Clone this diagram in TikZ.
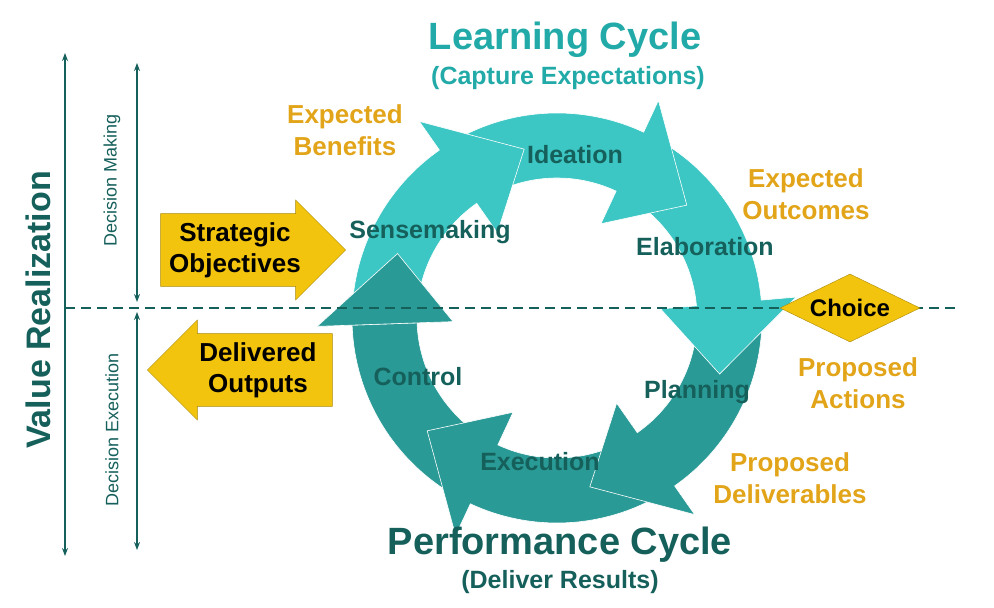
\documentclass[tikz,border=0pt]{standalone}
\usepackage{fontspec}
\setmainfont{Liberation Sans}
\usetikzlibrary{arrows.meta,shapes.geometric,shapes.arrows}
\definecolor{lightteal}{HTML}{3CC6C4}
\definecolor{darkteal}{HTML}{2A9A96}
\definecolor{deepteal}{HTML}{16605C}
\definecolor{titleteal}{HTML}{22AAA8}
\definecolor{gold}{HTML}{E2A418}
\definecolor{yellowbox}{HTML}{F2C40E}
\newcommand{\cyclearrow}[3]{% start angle, end angle, colour
  \fill[#3,draw=white,line width=0.6pt] (#1:205) arc[start angle=#1,end angle=#2,radius=205]
    -- (#2:240) -- ({#2-24}:172) -- (#2:104) -- (#2:140)
    arc[start angle=#2,end angle=#1,radius=140] -- cycle;}
\newcommand{\cyclehead}[2]{% angle, colour
  \fill[#2,draw=white,line width=0.6pt] (#1:240) -- ({#1-24}:172) -- (#1:104) -- cycle;}
\begin{document}
\begin{tikzpicture}[x=1pt,y=1pt,font=\bfseries,
    steplabel/.style={font=\fontsize{25}{27}\selectfont\bfseries,text=deepteal},
    outlabel/.style={font=\fontsize{26}{32}\selectfont\bfseries,text=gold,align=center},
    sidelabel/.style={font=\fontsize{18}{20}\selectfont,text=deepteal,rotate=90},
    goldarrow/.style={single arrow,fill=yellowbox,draw=yellowbox!70!black,
      minimum height=185pt,minimum width=100pt,single arrow head extend=12pt,
      inner sep=4pt,align=center,font=\fontsize{26}{31}\selectfont\bfseries},
    guide/.style={draw=deepteal,line width=1.4pt,{Stealth[length=8pt]}-{Stealth[length=8pt]}}]
  \useasboundingbox (0,0) rectangle (994,608);

  % cycle ring
  \begin{scope}[shift={(557,290)}]
    \cyclearrow{-115}{-178}{darkteal}
    \cyclearrow{-55}{-115}{darkteal}
    \cyclearrow{5}{-55}{darkteal}
    \cyclearrow{65}{5}{lightteal}
    \cyclearrow{125}{65}{lightteal}
    \cyclearrow{182}{125}{lightteal}
    \cyclehead{182}{darkteal}
  \end{scope}

  \node[steplabel] (ideation) at (575,453) {Ideation};
  \node[steplabel] (sense)    at (430,376) {Sensemaking};
  \node[steplabel] (elab)     at (705,361) {Elaboration};
  \node[steplabel] (plan)     at (697,216) {Planning};
  \node[steplabel] (exec)     at (540,146) {Execution};
  \node[steplabel] (control)  at (418,231) {Control};

  \node[outlabel] (benefits)  at (345,478) {Expected\\Benefits};
  \node[outlabel] (outcomes)  at (806,414) {Expected\\Outcomes};
  \node[outlabel] (actions)   at (858,225) {Proposed\\Actions};
  \node[outlabel] (deliver)   at (790,130) {Proposed\\Deliverables};

  \node[font=\fontsize{38}{40}\selectfont\bfseries,text=titleteal] (learn) at (565,568) {Learning Cycle};
  \node[font=\fontsize{25}{27}\selectfont\bfseries,text=titleteal] (capture) at (568,530) {(Capture Expectations)};
  \node[font=\fontsize{38}{40}\selectfont\bfseries,text=deepteal] (perf) at (560,63) {Performance Cycle};
  \node[font=\fontsize{25}{27}\selectfont\bfseries,text=deepteal] (results) at (560,26) {(Deliver Results)};

  % split line and guides
  \coordinate (dl) at (65,300);
  \coordinate (dr) at (960,300);
  \draw[deepteal,line width=1.6pt,dash pattern=on 10pt off 6pt] (dl) -- (dr);
  \coordinate (vtop) at (65,555);
  \coordinate (vbot) at (65,52);
  \draw[guide] (vbot) -- (vtop);
  \coordinate (mtop) at (137,545);
  \coordinate (mbot) at (137,306);
  \coordinate (etop) at (137,296);
  \coordinate (ebot) at (137,58);
  \draw[guide] (mbot) -- (mtop);
  \draw[guide] (ebot) -- (etop);
  \node[font=\fontsize{34}{36}\selectfont\bfseries,text=deepteal,rotate=90] (value) at (38,298) {Value Realization};
  \node[sidelabel] (making) at (112,428) {Decision Making};
  \node[sidelabel] (execution) at (112,178) {Decision Execution};

  % yellow arrows and choice
  \node[goldarrow] (strategic) at (235,358) {Strategic\\Objectives};
  \node[goldarrow,shape border rotate=180] (outputs) at (258,238) {Delivered\\Outputs};
  \node[diamond,fill=yellowbox,draw=yellowbox!70!black,minimum width=140pt,minimum height=68pt,
    aspect=2.2,inner sep=0pt,font=\fontsize{24}{26}\selectfont\bfseries] (choice) at (850,300) {Choice};
\end{tikzpicture}
\end{document}
